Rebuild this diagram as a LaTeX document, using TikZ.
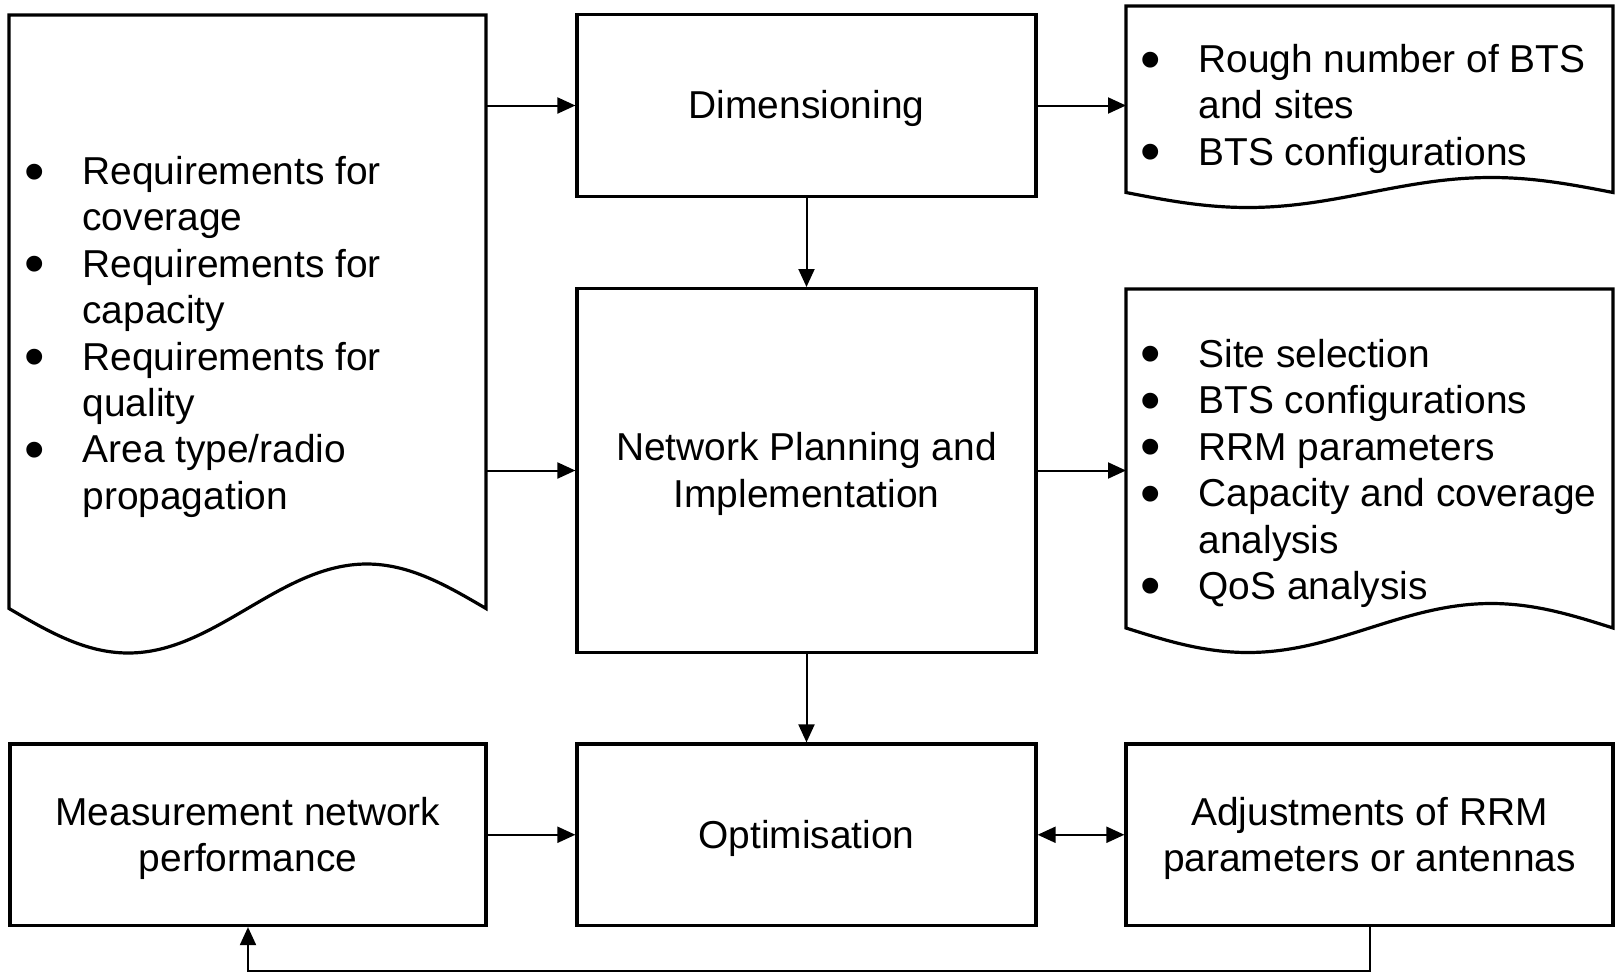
\documentclass[tikz,border=0pt]{standalone}
\usepackage{fontspec}
\setmainfont{Liberation Sans}
\usetikzlibrary{arrows.meta}
\newcommand\mystrut{\rule[-0.212em]{0pt}{1.117em}}
\newcommand\bl{\makebox[55pt][l]{\hspace*{-3pt}\smash{\raisebox{-0.165em}{\scalebox{1.5}{•}}}}}
\newcommand\ind{\hspace*{55pt}}
\begin{document}
\begin{tikzpicture}[x=1pt,y=-1pt,
  txt/.style={font=\fontsize{38.9}{46.4}\selectfont, inner sep=0pt},
  box/.style={txt, draw, line width=3.2pt, minimum width=459pt, align=center},
  ghost/.style={inner sep=0pt, outer sep=0pt},
  docshape/.style={draw, line width=3.2pt, line join=miter},
  arr/.style={line width=2pt, -{Triangle[length=18pt,width=16pt]}},
  darr/.style={line width=2pt, {Triangle[length=18pt,width=16pt]}-{Triangle[length=18pt,width=16pt]}}]
\useasboundingbox (0,0) rectangle (1616,972);

% central column
\node[box, minimum height=182.6pt] (dim) at (806.5,105.5) {\mystrut Dimensioning};
\node[box, minimum height=363.8pt] (np) at (806.5,470.5) {\mystrut Network Planning and\\Implementation\mystrut};
\node[box, minimum height=181.5pt] (opt) at (806.5,834.75) {\mystrut Optimisation};
\node[box, minimum width=476pt, minimum height=181.5pt] (meas) at (248,834.75) {\mystrut Measurement network\\performance\mystrut};
\node[box, minimum width=487pt, minimum height=181.5pt] (adj) at (1369.5,834.75) {\mystrut Adjustments of RRM\\parameters or antennas\mystrut};

% document shapes (anchors for connectors)
\node[ghost, minimum width=477pt, minimum height=593.5pt] (req) at (247.5,311.75) {};
\node[ghost, minimum width=487pt, minimum height=186.5pt] (rtop) at (1369.5,99.25) {};
\node[ghost, minimum width=487pt, minimum height=339pt] (rmid) at (1369.5,458.5) {};

\draw[docshape] (9,15) -- (486,15) -- (486,608.5) sin (366.75,564) cos (247.5,608.5) sin (128.25,653) cos (9,608.5) -- cycle;
\draw[docshape] (1126,6) -- (1613,6) -- (1613,192.5) sin (1491.25,177.5) cos (1369.5,192.5) sin (1247.75,207.5) cos (1126,192.5) -- cycle;
\draw[docshape] (1126,289) -- (1613,289) -- (1613,628) sin (1491.25,603.5) cos (1369.5,628) sin (1247.75,652.5) cos (1126,628) -- cycle;

% texts of document shapes
\node[txt, align=left, anchor=west] (reqtxt) at (27.3,333.5) {\mystrut\bl Requirements for\\
\ind coverage\\
\bl Requirements for\\
\ind capacity\\
\bl Requirements for\\
\ind quality\\
\bl Area type/radio\\
\ind propagation\mystrut};
\node[txt, align=left, anchor=west] (rtoptxt) at (1143.3,105.5) {\mystrut\bl Rough number of BTS\\
\ind and sites\\
\bl BTS configurations\mystrut};
\node[txt, align=left, anchor=west] (rmidtxt) at (1143.3,470) {\mystrut\bl Site selection\\
\bl BTS configurations\\
\bl RRM parameters\\
\bl Capacity and coverage\\
\ind analysis\\
\bl QoS analysis\mystrut};

% connectors
\draw[arr] (req.east |- dim.west) -- (dim.west);
\draw[arr] (req.east |- np.west) -- (np.west);
\draw[arr] (dim.east) -- (dim.east -| rtop.west);
\draw[arr] (np.east) -- (np.east -| rmid.west);
\draw[arr] (dim.south) -- (np.north);
\draw[arr] (np.south) -- (opt.north);
\draw[arr] (meas.east) -- (opt.west);
\draw[darr] (opt.east) -- (adj.west);
\draw[arr] (adj.south) -- ++(0,44) -| (meas.south);
\end{tikzpicture}
\end{document}
